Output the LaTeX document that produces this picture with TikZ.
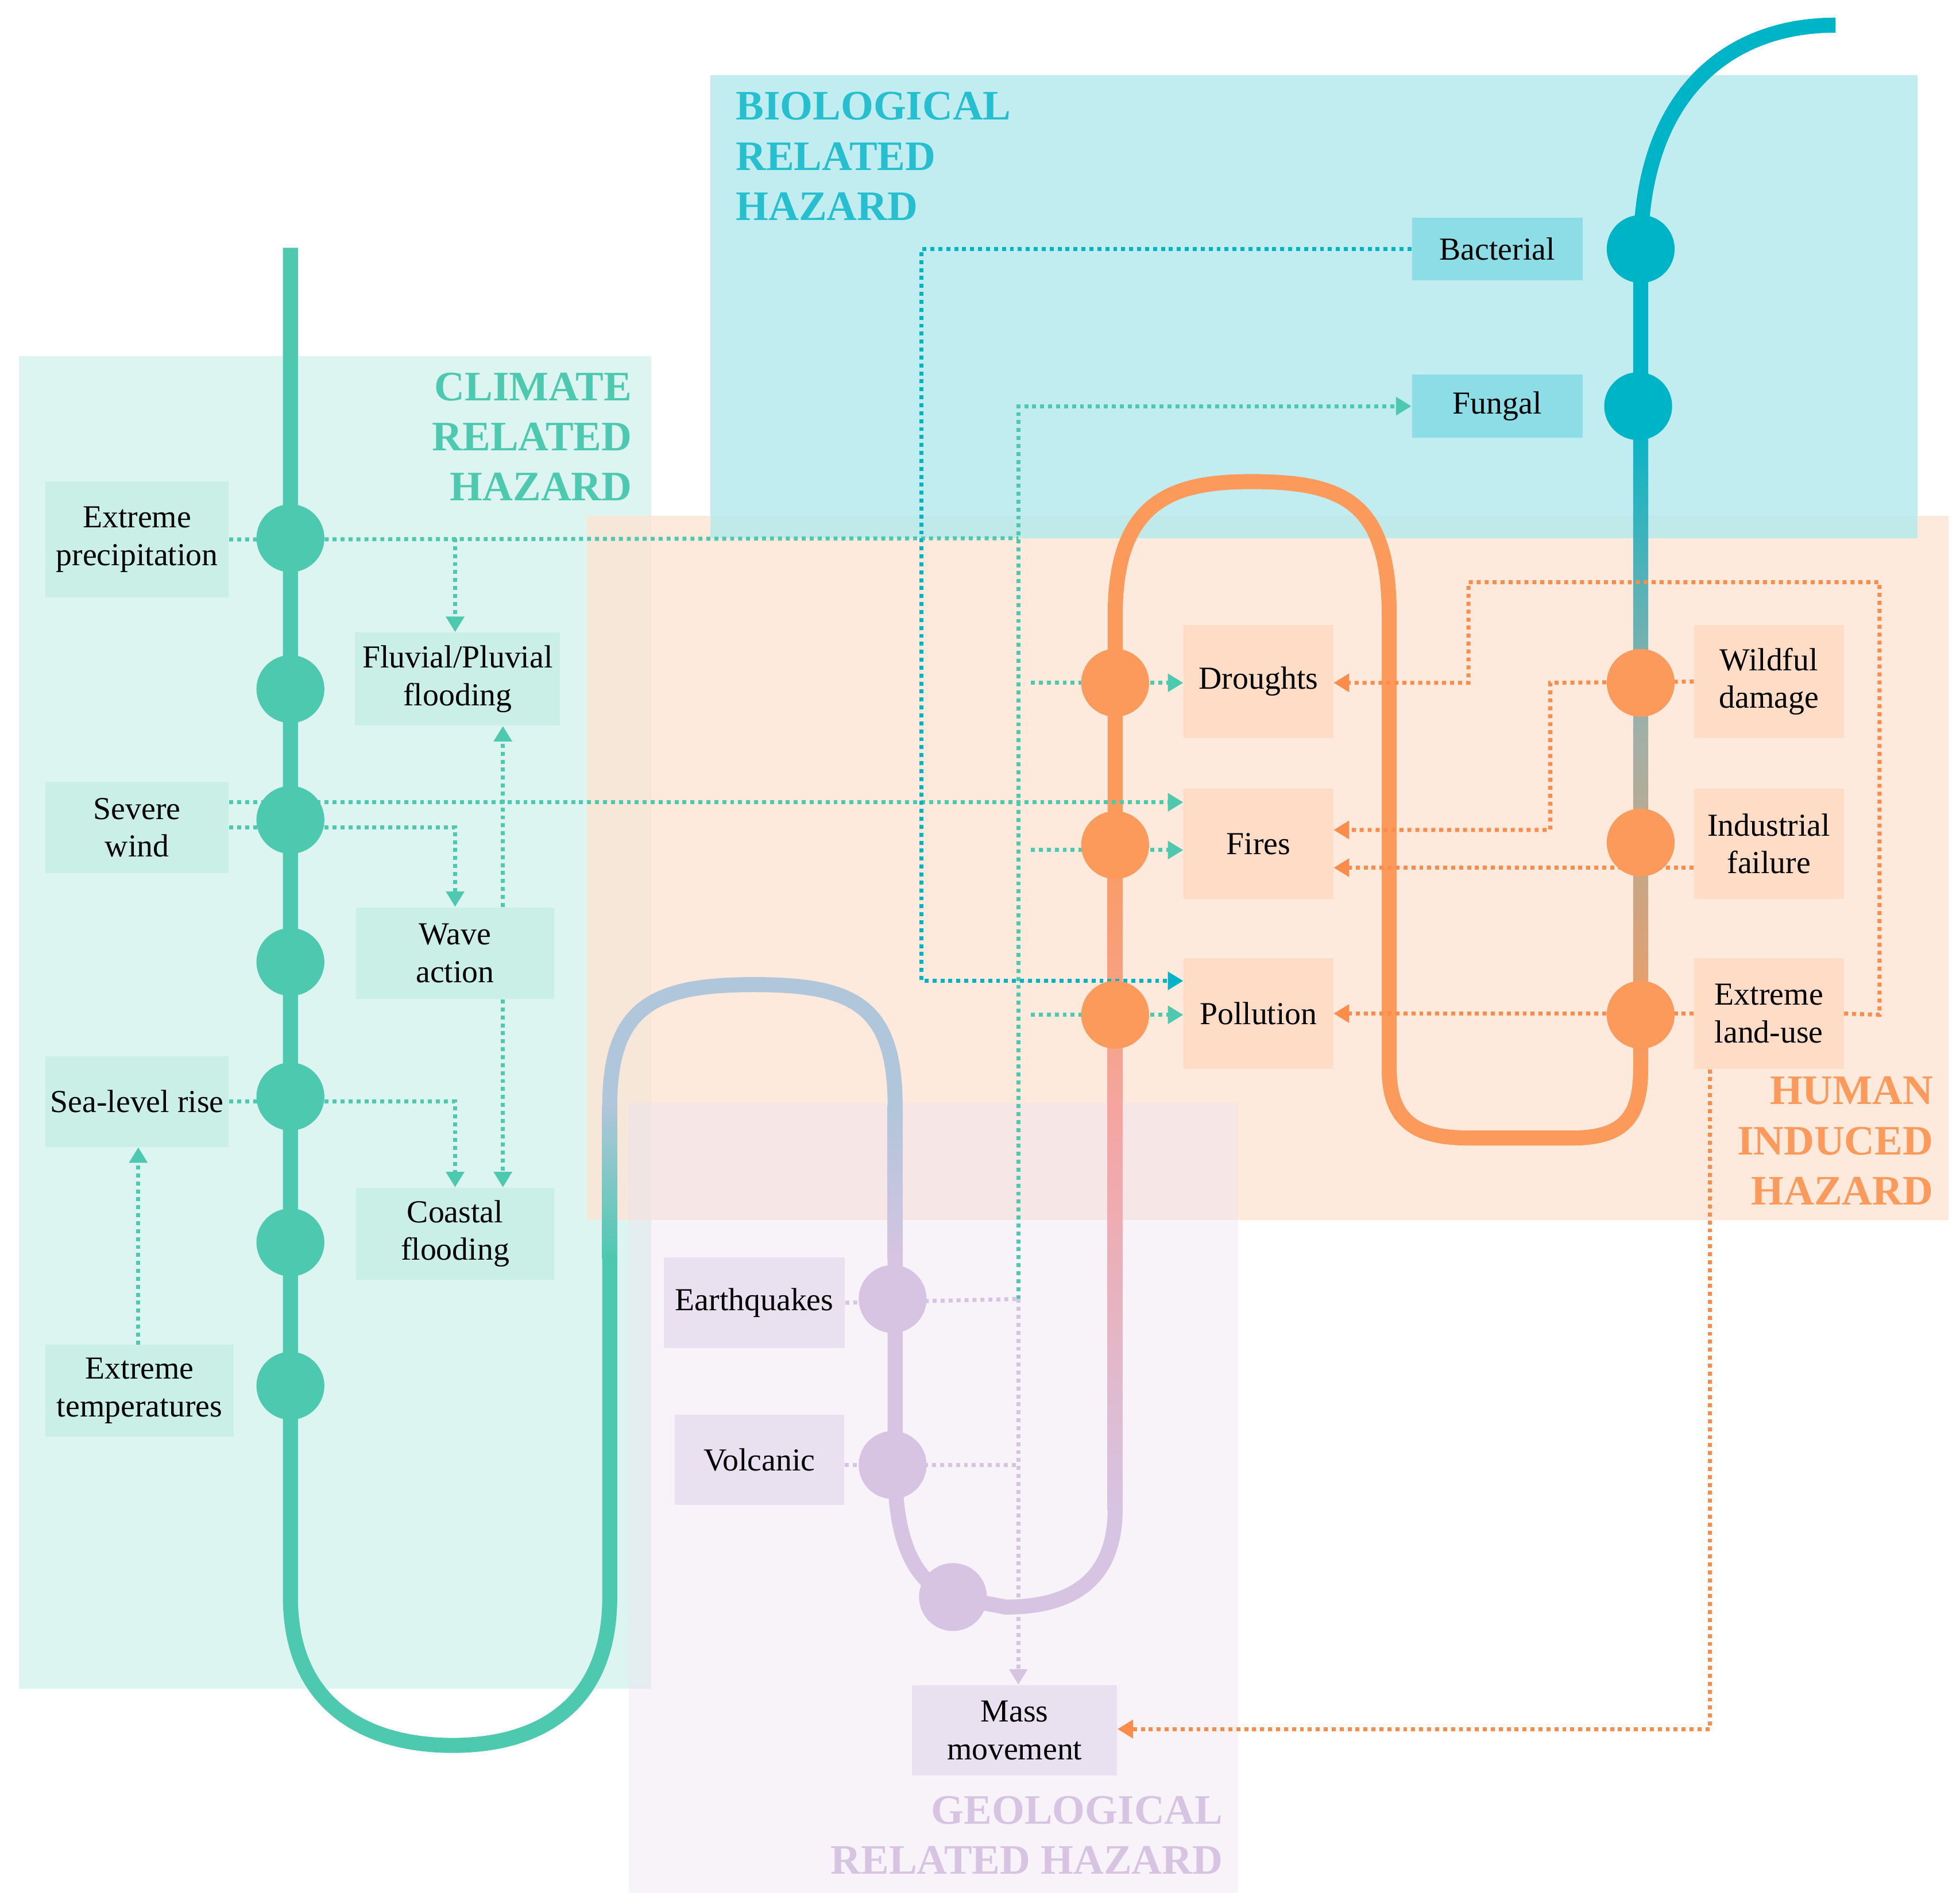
\documentclass[tikz,border=0pt]{standalone}
\usepackage{fontspec}
\setmainfont{Liberation Serif}
\usetikzlibrary{arrows.meta}
\definecolor{cl}{HTML}{4DC9B0}
\definecolor{bio}{HTML}{00B4C8}
\definecolor{hum}{HTML}{FB8C4A}
\definecolor{humL}{HTML}{FB9A5A}
\definecolor{geo}{HTML}{D6C4E2}
\definecolor{bgrey}{HTML}{B0C6DA}
\definecolor{pinkc}{HTML}{F4A6A4}
\definecolor{greyc}{HTML}{A0B0A8}
\begin{document}
\begin{tikzpicture}[x=0.02cm,y=-0.02cm,
  box/.style={inner sep=0pt,align=center,font=\fontsize{14.5}{17}\selectfont},
  ttl/.style={font=\fontsize{19}{22.7}\selectfont\bfseries,inner sep=0pt},
  cb/.style={box,fill=cl!30},
  bb/.style={box,fill=bio!45},
  hb/.style={box,fill=humL!35},
  gb/.style={box,fill=geo!50},
  dot/.style={line width=1.8pt,dash pattern=on 1.8pt off 1.8pt},
  ar/.style={dot,-{Triangle[width=8pt,length=7pt]}},
  main/.style={line width=6.8pt},
  circ/.style={circle,minimum size=1.08cm,inner sep=0pt}]
\useasboundingbox (0,0) rectangle (1559,1513);
% background regions
\fill[cl!25,opacity=0.75] (15,283) rectangle (518,1343);
\fill[humL!28,opacity=0.75] (467,410) rectangle (1550,970);
\fill[bio!30,opacity=0.8] (565,60) rectangle (1525,428);
\fill[geo!45,opacity=0.45] (500,877) rectangle (985,1505);
% titles
\node[ttl,text=cl,align=right,anchor=north east] (tc) at (503,296) {CLIMATE\\RELATED\\HAZARD};
\node[ttl,text=bio!85,align=left,anchor=north west] (tb) at (585,73) {BIOLOGICAL\\RELATED\\HAZARD};
\node[ttl,text=humL,align=right,anchor=north east] (th) at (1538,856) {HUMAN\\INDUCED\\HAZARD};
\node[ttl,text=geo,align=right,anchor=north east] (tg) at (973,1428) {GEOLOGICAL\\RELATED HAZARD};
% main line
\draw[main,cl] (231,197) -- (231,1270) .. controls (231,1355) and (290,1388) .. (360,1388) .. controls (430,1388) and (485,1355) .. (485,1270) -- (485,1000);
\shade[bottom color=cl,top color=bgrey] (479,1001) rectangle (491,879);
\draw[main,bgrey] (485,880) .. controls (485,800) and (520,783) .. (600,783) .. controls (680,783) and (712,800) .. (712,880);
\shade[top color=bgrey,bottom color=geo] (706,879) rectangle (718,1001);
\draw[main,geo] (712,1000) -- (712,1170) .. controls (712,1230) and (730,1260) .. (758,1270) -- (800,1278) .. controls (860,1278) and (887,1250) .. (887,1200);
\shade[bottom color=geo,top color=pinkc] (881,1201) rectangle (893,900);
\shade[bottom color=pinkc,top color=humL] (881,901) rectangle (893,649);
\draw[main,humL] (887,650) -- (887,490) .. controls (887,400) and (930,383) .. (995,383) .. controls (1070,383) and (1105,400) .. (1105,490) -- (1105,850) .. controls (1105,895) and (1130,905) .. (1170,905) -- (1250,905) .. controls (1290,905) and (1305,890) .. (1305,850);
\shade[bottom color=humL,top color=greyc] (1299,851) rectangle (1311,580);
\shade[bottom color=greyc,top color=bio] (1299,581) rectangle (1311,329);
\draw[main,bio] (1305,330) -- (1305,200) .. controls (1305,80) and (1370,20) .. (1460,20);
% nodes
\node[cb,minimum width=2.92cm,minimum height=1.84cm] (ep) at (109,429) {Extreme\\precipitation};
\node[cb,minimum width=3.26cm,minimum height=1.48cm] (fp) at (364,540) {Fluvial/Pluvial\\flooding};
\node[cb,minimum width=2.92cm,minimum height=1.46cm] (sw) at (109,658) {Severe\\wind};
\node[cb,minimum width=3.16cm,minimum height=1.46cm] (wa) at (362,758) {Wave\\action};
\node[cb,minimum width=2.92cm,minimum height=1.44cm] (sl) at (109,876) {Sea-level rise};
\node[cb,minimum width=3.16cm,minimum height=1.46cm] (cf) at (362,981) {Coastal\\flooding};
\node[cb,minimum width=3.0cm,minimum height=1.46cm] (et) at (111,1106) {Extreme\\temperatures};
\node[bb,minimum width=2.72cm,minimum height=1.0cm] (ba) at (1191,198) {Bacterial};
\node[bb,minimum width=2.72cm,minimum height=1.0cm] (fu) at (1191,323) {Fungal};
\node[hb,minimum width=2.38cm,minimum height=1.8cm] (dr) at (1001,542) {Droughts};
\node[hb,minimum width=2.38cm,minimum height=1.76cm] (fi) at (1001,671) {Fires};
\node[hb,minimum width=2.38cm,minimum height=1.76cm] (po) at (1001,806) {Pollution};
\node[hb,minimum width=2.38cm,minimum height=1.8cm] (wd) at (1407,542) {Wildful\\damage};
\node[hb,minimum width=2.38cm,minimum height=1.76cm] (if) at (1407,671) {Industrial\\failure};
\node[hb,minimum width=2.38cm,minimum height=1.76cm] (el) at (1407,806) {Extreme\\land-use};
\node[gb,minimum width=2.88cm,minimum height=1.44cm] (eq) at (600,1036) {Earthquakes};
\node[gb,minimum width=2.7cm,minimum height=1.44cm] (vo) at (604,1161) {Volcanic};
\node[gb,minimum width=3.26cm,minimum height=1.44cm] (mm) at (807,1376) {Mass\\movement};
% junction coordinates
\coordinate (c810a) at (810,1033);
\coordinate (c810b) at (810,323);
\coordinate (c362a) at (362,428);
\coordinate (c810c) at (810,428);
% teal connectors
\draw[dot,cl] (ep.east) -- (c810c);
\draw[ar,cl] (c362a) -- (fp.north -| c362a);
\draw[ar,cl] (c810a) -- (c810b) -- (fu.west);
\draw[ar,cl] (sw.east |- 0,638) -- (fi.west |- 0,638);
\draw[ar,cl] (sw.east |- 0,658) -- (362,658) -- (wa.north -| 362,0);
\draw[ar,cl] (wa.north -| 400,0) -- (fp.south -| 400,0);
\draw[ar,cl] (wa.south -| 400,0) -- (cf.north -| 400,0);
\draw[ar,cl] (sl.east) -- (362,876) -- (cf.north -| 362,0);
\draw[ar,cl] (et.north -| 110,0) -- (sl.south -| 110,0);
\draw[ar,cl] (820,543) -- (dr.west |- 0,543);
\draw[ar,cl] (820,676) -- (fi.west |- 0,676);
\draw[ar,cl] (820,807) -- (po.west |- 0,807);
% cyan
\draw[ar,bio] (ba.west) -- (733,198) -- (733,780) -- (po.west |- 0,780);
% lavender
\draw[dot,geo] (eq.east) -- (c810a);
\draw[ar,geo] (c810a) -- (mm.north -| c810a);
\draw[dot,geo] (vo.east |- 0,1165) -- (810,1165);
% orange
\draw[ar,hum] (el.east) -- (1495,807) -- (1495,463) -- (1168,463) -- (1168,543) -- (dr.east |- 0,543);
\draw[ar,hum] (wd.west) -- (1233,543) -- (1233,660) -- (fi.east |- 0,660);
\draw[ar,hum] (if.west |- 0,690) -- (fi.east |- 0,690);
\draw[ar,hum] (el.west) -- (po.east);
\draw[ar,hum] (el.south -| 1360,0) -- (1360,1375) -- (mm.east |- 0,1375);
% circles
\foreach \y/\n in {428/a,548/b,652/c,765/d,872/e,988/f,1102/g} \node[circ,fill=cl] (k\n) at (231,\y) {};
\foreach \y/\n in {543/a,672/b,807/c} \node[circ,fill=humL] (o\n) at (887,\y) {};
\foreach \y/\n in {543/a,670/b,807/c} \node[circ,fill=humL] (r\n) at (1305,\y) {};
\node[circ,fill=bio] (b1) at (1305,198) {};
\node[circ,fill=bio] (b2) at (1303,323) {};
\node[circ,fill=geo] (g1) at (710,1033) {};
\node[circ,fill=geo] (g2) at (710,1165) {};
\node[circ,fill=geo] (g3) at (758,1270) {};
\end{tikzpicture}
\end{document}
